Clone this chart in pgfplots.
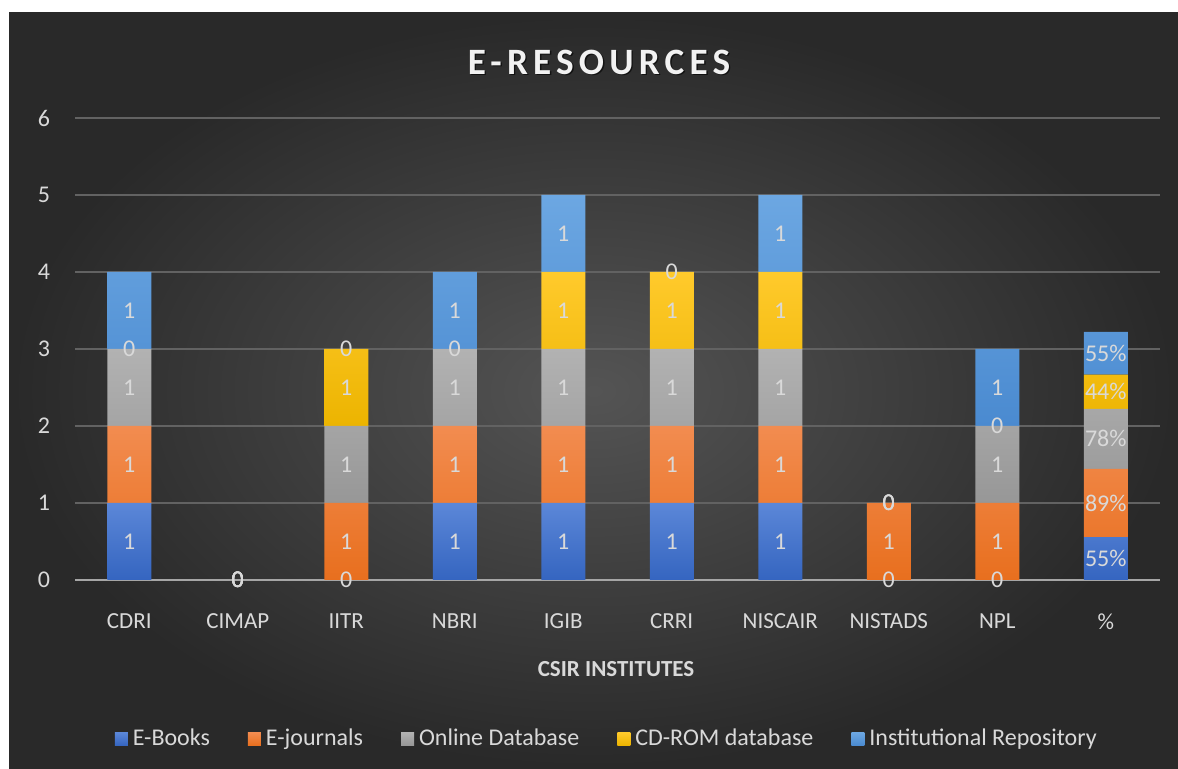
\documentclass[border=0pt]{standalone}
\usepackage{pgfplots}
\pgfplotsset{compat=1.18}
\usepackage{fontspec}
\setmainfont{Carlito}
\definecolor{bkTop}{HTML}{5B87D8}\definecolor{bkBot}{HTML}{3565C0}
\definecolor{ejTop}{HTML}{F28C50}\definecolor{ejBot}{HTML}{E86F1E}
\definecolor{odTop}{HTML}{B2B2B2}\definecolor{odBot}{HTML}{979797}
\definecolor{cdTop}{HTML}{FFCA2C}\definecolor{cdBot}{HTML}{ECB400}
\definecolor{irTop}{HTML}{6CA7E2}\definecolor{irBot}{HTML}{4A8AD0}
\definecolor{txt}{HTML}{D9D9D9}
\definecolor{gridc}{HTML}{626262}
\definecolor{axc}{HTML}{A6A6A6}
\begin{document}
\begin{tikzpicture}
\useasboundingbox (0,0) rectangle (589pt,384.5pt);
\fill[white] (0,0) rectangle (589pt,384.5pt);
\shade[inner color=black!67!white, outer color=black!84!white] (4.5pt,0) rectangle (589pt,378pt);
% title
\node[text=black, opacity=0.6] at (300.2pt,352.8pt) {\fontsize{18.6}{22}\bfseries\addfontfeature{LetterSpace=14}\selectfont E-RESOURCES};
\node[text=white!95!black] at (299.5pt,353.5pt) {\fontsize{18.6}{22}\bfseries\addfontfeature{LetterSpace=14}\selectfont E-RESOURCES};
\node[text=txt] at (308pt,50pt) {\fontsize{11.5}{14}\bfseries\selectfont CSIR INSTITUTES};
\begin{axis}[
  at={(37.5pt,94.5pt)}, anchor=south west,
  scale only axis, width=542.5pt, height=231pt,
  ybar stacked, bar width=22pt,
  xmin=-0.5, xmax=9.5, ymin=0, ymax=6,
  xtick={0,...,9},
  xticklabels={CDRI,CIMAP,IITR,NBRI,IGIB,CRRI,NISCAIR,NISTADS,NPL,\%},
  ytick={0,...,6},
  /pgf/number format/assume math mode=true,
  ymajorgrids, grid style={draw=gridc, line width=0.6pt},
  axis x line*=bottom, axis y line*=left,
  x axis line style={draw=axc, line width=1.1pt},
  y axis line style={draw=none},
  major tick length=0pt, tick style={draw=none},
  xticklabel style={text=txt, font=\fontsize{11.5}{14}\selectfont, yshift=-13.5pt},
  yticklabel style={text=txt, font=\fontsize{12}{14}\selectfont, anchor=east, xshift=-9pt},
  legend columns=5,
  legend style={at={(0.4915,-0.344)}, anchor=center, draw=none, fill=none,
    text=txt, font=\fontsize{12}{14}\selectfont,
    /tikz/every even column/.append style={column sep=16.5pt},
    nodes={inner xsep=2.5pt}},
  legend image code/.code={\fill[#1] (0pt,-3.25pt) rectangle (6.5pt,3.25pt);},
]
\addplot[draw=none, top color=bkTop, bottom color=bkBot] coordinates {(0,1)(1,0)(2,0)(3,1)(4,1)(5,1)(6,1)(7,0)(8,0)(9,0.5556)};
\addplot[draw=none, top color=ejTop, bottom color=ejBot] coordinates {(0,1)(1,0)(2,1)(3,1)(4,1)(5,1)(6,1)(7,1)(8,1)(9,0.8889)};
\addplot[draw=none, top color=odTop, bottom color=odBot] coordinates {(0,1)(1,0)(2,1)(3,1)(4,1)(5,1)(6,1)(7,0)(8,1)(9,0.7778)};
\addplot[draw=none, top color=cdTop, bottom color=cdBot] coordinates {(0,0)(1,0)(2,1)(3,0)(4,1)(5,1)(6,1)(7,0)(8,0)(9,0.4444)};
\addplot[draw=none, top color=irTop, bottom color=irBot] coordinates {(0,1)(1,0)(2,0)(3,1)(4,1)(5,0)(6,1)(7,0)(8,1)(9,0.5556)};
\legend{E-Books,E-journals,Online Database,CD-ROM database,Institutional Repository}
\end{axis}
\begin{axis}[
  at={(37.5pt,94.5pt)}, anchor=south west,
  scale only axis, width=542.5pt, height=231pt,
  xmin=-0.5, xmax=9.5, ymin=0, ymax=6,
  hide axis, clip=false,
]
\addplot[only marks, mark=none, point meta=explicit symbolic,
  nodes near coords, nodes near coords align={center},
  every node near coord/.append style={text=txt, font=\fontsize{12}{14}\selectfont, inner sep=0pt}]
  coordinates {
  (0,0.5)[1] (0,1.5)[1] (0,2.5)[1] (0,3)[0] (0,3.5)[1]
  (1,0)[0] (1,0)[0] (1,0)[0] (1,0)[0] (1,0)[0]
  (2,0)[0] (2,0.5)[1] (2,1.5)[1] (2,2.5)[1] (2,3)[0]
  (3,0.5)[1] (3,1.5)[1] (3,2.5)[1] (3,3)[0] (3,3.5)[1]
  (4,0.5)[1] (4,1.5)[1] (4,2.5)[1] (4,3.5)[1] (4,4.5)[1]
  (5,0.5)[1] (5,1.5)[1] (5,2.5)[1] (5,3.5)[1] (5,4)[0]
  (6,0.5)[1] (6,1.5)[1] (6,2.5)[1] (6,3.5)[1] (6,4.5)[1]
  (7,0)[0] (7,0.5)[1] (7,1)[0] (7,1)[0] (7,1)[0]
  (8,0)[0] (8,0.5)[1] (8,1.5)[1] (8,2)[0] (8,2.5)[1]
  (9,0.2778)[55\%] (9,1.0)[89\%] (9,1.8333)[78\%] (9,2.4444)[44\%] (9,2.9444)[55\%]
  };
\end{axis}
\end{tikzpicture}
\end{document}
